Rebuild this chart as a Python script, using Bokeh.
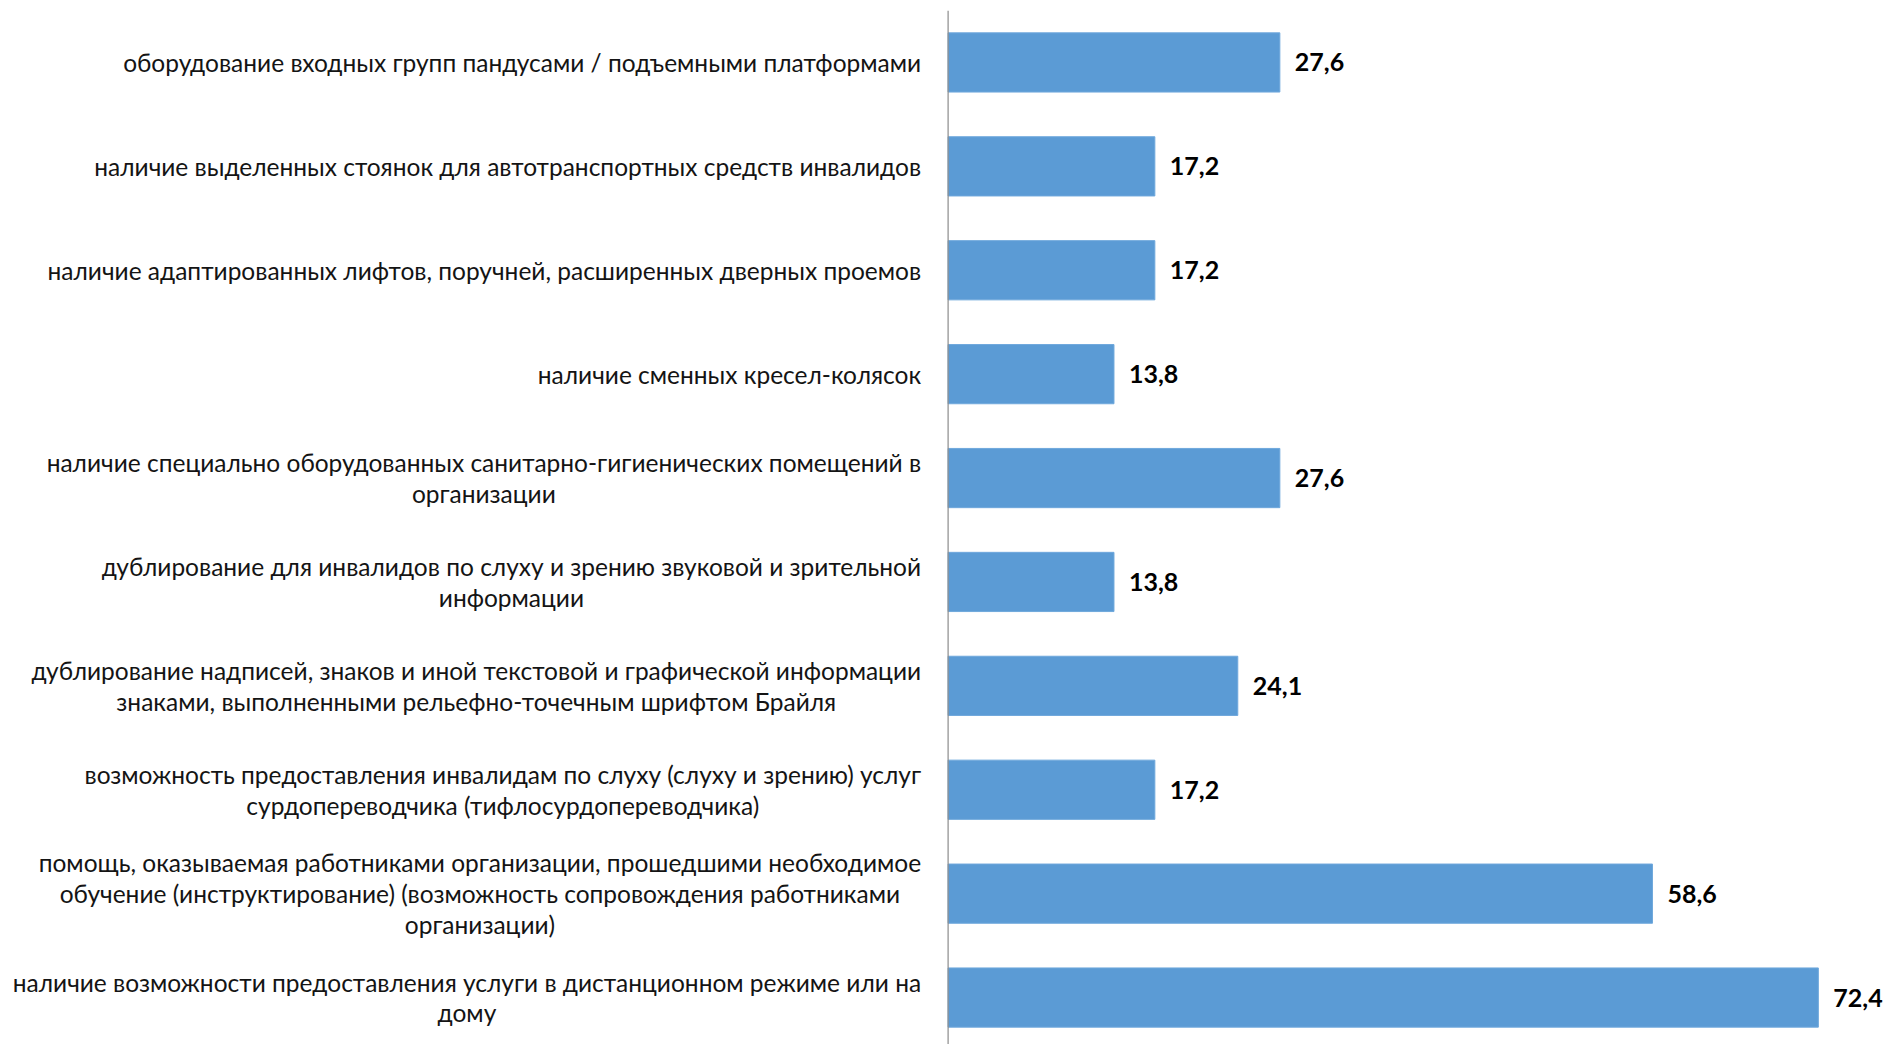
from bokeh.plotting import figure
from bokeh.models import ColumnDataSource, Range1d, Span
from bokeh.embed import file_html
from bokeh.resources import INLINE
from bokeh.core.properties import value

categories = [
    "оборудование входных групп пандусами / подъемными платформами",
    "наличие выделенных стоянок для автотранспортных средств инвалидов",
    "наличие адаптированных лифтов, поручней, расширенных дверных проемов",
    "наличие сменных кресел-колясок",
    "наличие специально оборудованных санитарно-гигиенических помещений в\nорганизации",
    "дублирование для инвалидов по слуху и зрению звуковой и зрительной\nинформации",
    "дублирование надписей, знаков и иной текстовой и графической информации\nзнаками, выполненными рельефно-точечным шрифтом Брайля",
    "возможность предоставления инвалидам по слуху (слуху и зрению) услуг\nсурдопереводчика (тифлосурдопереводчика)",
    "помощь, оказываемая работниками организации, прошедшими необходимое\nобучение (инструктирование) (возможность сопровождения работниками\nорганизации)",
    "наличие возможности предоставления услуги в дистанционном режиме или на\nдому",
]
values = [27.6, 17.2, 17.2, 13.8, 27.6, 13.8, 24.1, 17.2, 58.6, 72.4]
value_labels = [f"{v:.1f}".replace(".", ",") for v in values]

# layout constants (pixels)
W, H = 1888, 1044
TOP = 10
FRAME_H = H - TOP
BAND_PX = 103.9
AXIS_PX = 947.6      # axis position from frame left
PX_PER_UNIT = 12.02

positions = list(range(len(values)))
src = ColumnDataSource(dict(y=positions, v=values, cat=categories, lab=value_labels))

x_range = Range1d(-AXIS_PX / PX_PER_UNIT, (W - AXIS_PX) / PX_PER_UNIT)
y_range = Range1d(-0.5 + FRAME_H / BAND_PX, -0.5)

p = figure(width=W, height=H, x_range=x_range, y_range=y_range,
           output_backend="svg", toolbar_location=None,
           x_axis_type=None, y_axis_type=None,
           min_border_left=0, min_border_right=0, min_border_top=TOP, min_border_bottom=0)
p.outline_line_color = None
p.xgrid.visible = False
p.ygrid.visible = False
p.background_fill_color = "white"
p.border_fill_color = "white"

p.hbar(y="y", left=0, right="v", height=0.57, source=src,
       fill_color="#5B9BD5", line_color="#6FA8DC", line_width=1)

p.add_layout(Span(location=0, dimension="height", line_color="#8C8C8C", line_width=1.2))

p.text(x=0, y="y", text="cat", source=src, x_offset=-27,
       anchor="center_right", text_align="center", text_baseline="middle",
       text_font=value("Lato"), text_font_size="24.5px", text_color="#141414",
       text_line_height=1.065)

p.text(x="v", y="y", text="lab", source=src, x_offset=15,
       text_align="left", text_baseline="middle",
       text_font=value("Lato"), text_font_style="bold", text_font_size="25px",
       text_color="#000000")

open("out.html", "w").write(file_html(p, INLINE))
